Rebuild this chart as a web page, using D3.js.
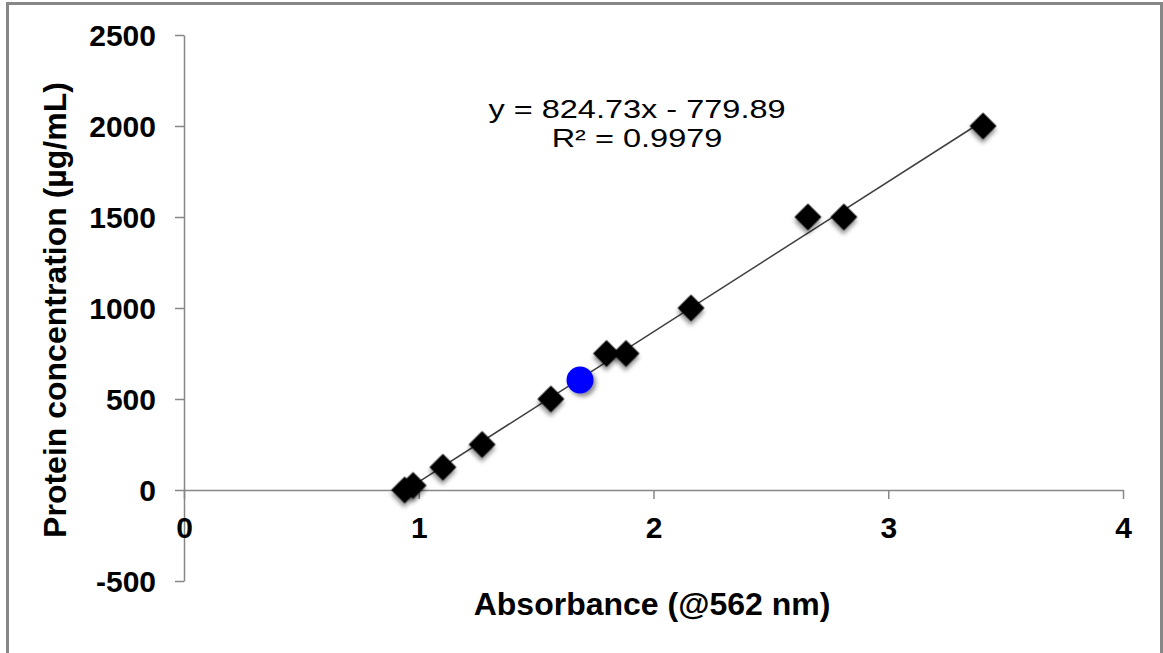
<!DOCTYPE html>
<html>
<head>
<meta charset="utf-8">
<script src="https://cdn.jsdelivr.net/npm/d3@7"></script>
<style>
  body { margin: 0; background: #fff; }
  svg { display: block; font-family: "Liberation Sans", Arial, sans-serif; }
</style>
</head>
<body>
<svg id="chart" width="1163" height="653"></svg>
<script>
// standards (BCA assay) - absorbance vs concentration
const absorbance = [0.94, 0.976, 1.103, 1.27, 1.563, 1.80, 1.883, 2.16, 2.658, 2.811, 3.404];
const concentration = [0, 25, 125, 250, 500, 750, 750, 1000, 1500, 1500, 2000];
// unknown sample
const sampleAbs = [1.687];
const sampleConc = [604];
// fitted line
const slope = 824.73;
const intercept = -779.89;
const eqText = ["y = 824.73x - 779.89", "R² = 0.9979"];
const xTicks = [0, 1, 2, 3, 4];
const yTicks = [-500, 0, 500, 1000, 1500, 2000, 2500];

const svg = d3.select("#chart");

// frame (left, top, right)
svg.append("path")
  .attr("d", "M7.5,653 V3.5 H1161.5 V653")
  .attr("fill", "none")
  .attr("stroke", "#878787")
  .attr("stroke-width", 3);

const defs = svg.append("defs");
const shadow = defs.append("filter").attr("id", "shadow")
  .attr("x", "-50%").attr("y", "-50%").attr("width", "200%").attr("height", "200%");
shadow.append("feDropShadow")
  .attr("dx", 2.5).attr("dy", 3).attr("stdDeviation", 2.2)
  .attr("flood-color", "#000").attr("flood-opacity", 0.45);

const x = d3.scaleLinear().domain([0, 4]).range([184, 1123]);
const y = d3.scaleLinear().domain([-500, 2500]).range([581, 35]);

// y axis
const yAxis = svg.append("g")
  .attr("transform", `translate(${x(0)},0)`)
  .call(d3.axisLeft(y).tickValues(yTicks).tickFormat(d => String(d))
    .tickSize(9).tickPadding(19).tickSizeOuter(0));

// x axis at y = 0
const xAxis = svg.append("g")
  .attr("transform", `translate(0,${y(0)})`)
  .call(d3.axisBottom(x).tickValues(xTicks).tickFormat(d => String(d))
    .tickSize(9).tickPadding(18).tickSizeOuter(0));

[yAxis, xAxis].forEach(g => {
  g.select(".domain").attr("stroke", "#878787").attr("stroke-width", 1.5);
  g.selectAll(".tick line").attr("stroke", "#878787").attr("stroke-width", 1.5);
  g.selectAll(".tick text")
    .attr("fill", "#000")
    .style("font-size", "30px")
    .style("font-weight", "bold")
    .style("font-family", "Liberation Sans, Arial, sans-serif");
});
xAxis.selectAll(".tick text").attr("dy", "0.71em");
yAxis.selectAll(".tick text").attr("dy", "0.36em");

// trendline
const xr = d3.extent(absorbance);
svg.append("line")
  .attr("x1", x(xr[0])).attr("y1", y(slope * xr[0] + intercept))
  .attr("x2", x(xr[1])).attr("y2", y(slope * xr[1] + intercept))
  .attr("stroke", "#404040")
  .attr("stroke-width", 1.5);

// standards as diamonds
const pts = absorbance.map((a, i) => ({ a: a, c: concentration[i] }));
svg.append("g").selectAll("path")
  .data(pts)
  .join("path")
  .attr("d", d3.symbol(d3.symbolSquare, 19 * 19))
  .attr("transform", d => `translate(${x(d.a)},${y(d.c)}) rotate(45)`)
  .attr("fill", "#000")
  .attr("filter", "url(#shadow)");

// sample point
svg.append("g").selectAll("circle")
  .data(sampleAbs.map((a, i) => ({ a: a, c: sampleConc[i] })))
  .join("circle")
  .attr("cx", d => x(d.a))
  .attr("cy", d => y(d.c))
  .attr("r", 13.5)
  .attr("fill", "#0000ff")
  .attr("filter", "url(#shadow)");

// equation
eqText.forEach((t, i) => {
  svg.append("text")
    .attr("transform", `translate(637,${118 + i * 29}) scale(1.3,1)`)
    .attr("text-anchor", "middle")
    .style("font-size", "25px")
    .text(t);
});

// axis titles
svg.append("text")
  .attr("x", 652).attr("y", 615)
  .attr("text-anchor", "middle")
  .style("font-size", "32px")
  .style("font-weight", "bold")
  .text("Absorbance (@562 nm)");

svg.append("text")
  .attr("transform", "translate(66,310) rotate(-90)")
  .attr("text-anchor", "middle")
  .style("font-size", "32px")
  .style("font-weight", "bold")
  .text("Protein concentration (µg/mL)");
</script>
</body>
</html>
